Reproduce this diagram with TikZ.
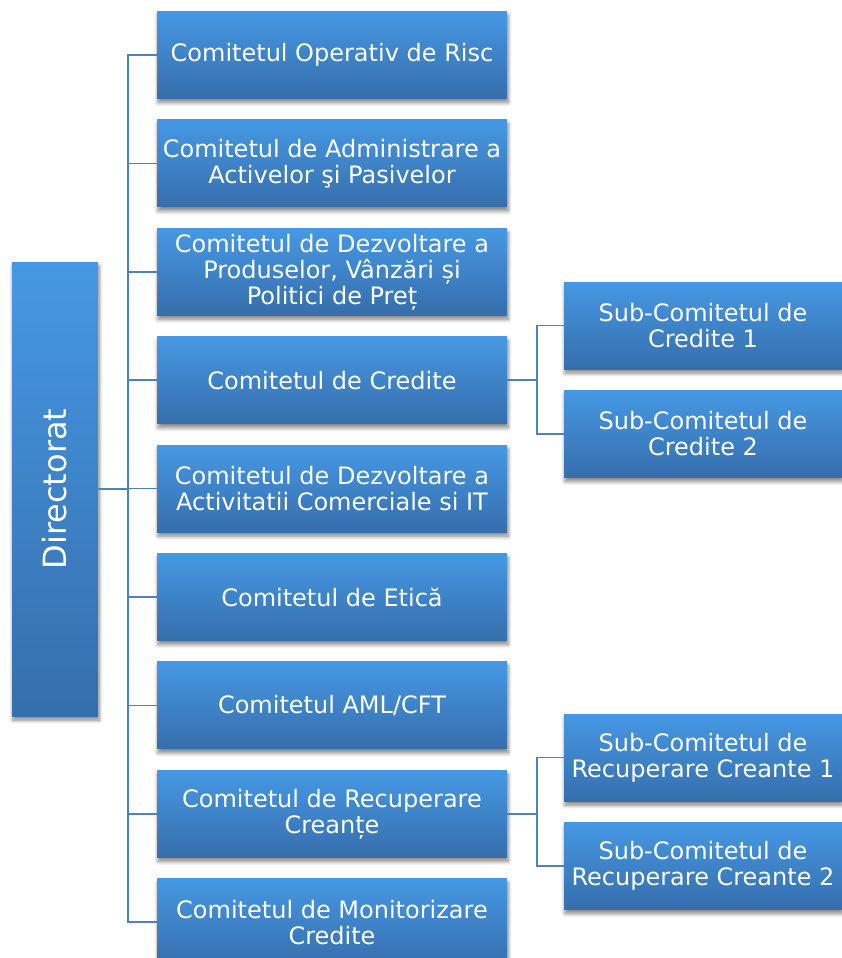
\documentclass[tikz,border=0pt]{standalone}
\usepackage{fontspec}
\setmainfont{DejaVu Sans}
\usetikzlibrary{positioning, calc, shadows.blur}
\definecolor{boxtop}{RGB}{70,152,228}
\definecolor{boxbottom}{RGB}{54,110,172}
\definecolor{linkblue}{RGB}{79,129,189}
\tikzset{
boxshadow/.style={blur shadow={shadow xshift=1pt, shadow yshift=-4pt, shadow blur radius=4pt, shadow blur steps=8, shadow opacity=50}},
comite/.style={rectangle, minimum width=350pt, minimum height=87pt, inner sep=0pt,
	top color=boxtop, bottom color=boxbottom, text=white, align=center,
	font=\fontsize{24}{26}\selectfont, boxshadow},
subcomite/.style={comite, minimum width=278pt},
board/.style={rectangle, minimum width=86pt, minimum height=454pt, inner sep=0pt,
	top color=boxtop, bottom color=boxbottom, text=white,
	font=\fontsize{32}{36}\selectfont, boxshadow},
link/.style={draw=linkblue, line width=1.6pt},
}

\begin{document}
\begin{tikzpicture}[x=1pt, y=-1pt]
\useasboundingbox (0,0) rectangle (842,958);
%Place the nodes
\node[board] (dir) at (55,489) {\rotatebox{90}{Directorat}};

\node[comite] (c1) at (332,55) {Comitetul Operativ de Risc};
\node[comite, below=21pt of c1] (c2) {Comitetul de Administrare a\\Activelor şi Pasivelor};
\node[comite, below=21pt of c2] (c3) {Comitetul de Dezvoltare a\\Produselor, Vânzări și\\Politici de Preț};
\node[comite, below=21pt of c3] (c4) {Comitetul de Credite};
\node[comite, below=21pt of c4] (c5) {Comitetul de Dezvoltare a\\Activitatii Comerciale si IT};
\node[comite, below=21pt of c5] (c6) {Comitetul de Etică};
\node[comite, below=21pt of c6] (c7) {Comitetul AML/CFT};
\node[comite, below=21pt of c7] (c8) {Comitetul de Recuperare\\Creanțe};
\node[comite, below=21pt of c8] (c9) {Comitetul de Monitorizare\\Credite};

\node[subcomite] (s1) at (703,325.5) {Sub-Comitetul de\\Credite 1};
\node[subcomite, below=21pt of s1] (s2) {Sub-Comitetul de\\Credite 2};
\node[subcomite] (s3) at (703,757.5) {Sub-Comitetul de\\Recuperare Creante 1};
\node[subcomite, below=21pt of s3] (s4) {Sub-Comitetul de\\Recuperare Creante 2};

%Connectors
\coordinate (trunk) at ($(dir.east)+(30,0)$);
\draw[link] (dir.east) -- (trunk);
\foreach \i in {1,...,9} {
	\draw[link] (trunk) |- (c\i.west);
}

\coordinate (credfork) at ($(c4.east)+(30,0)$);
\coordinate (recfork) at ($(c8.east)+(30,0)$);
\foreach \j in {1, 2} {
	\pgfmathtruncatemacro{\k}{(\j+2)}%
	\draw[link] (c4.east) -- (credfork) |- (s\j.west);
	\draw[link] (c8.east) -- (recfork) |- (s\k.west);
}

\end{tikzpicture}
\end{document}
